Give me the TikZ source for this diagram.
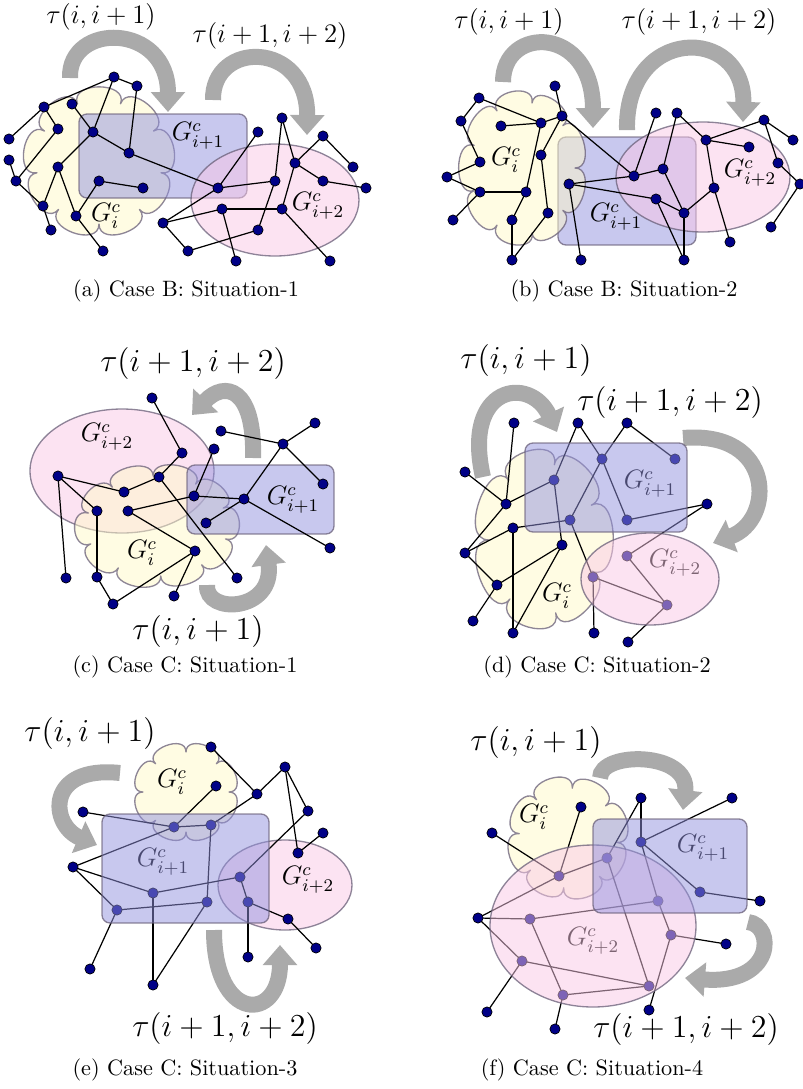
\documentclass[tikz,border=0pt]{standalone}
\usetikzlibrary{arrows.meta}
\pgfdeclarelayer{bg}
\pgfdeclarelayer{edgelayer}
\pgfdeclarelayer{fg}
\pgfsetlayers{bg,edgelayer,main,fg}
\definecolor{dotnavy}{RGB}{0,0,135}
\definecolor{arrowgray}{RGB}{170,170,170}
\definecolor{cloudyellow}{RGB}{255,249,200}
\definecolor{rectblue}{RGB}{145,145,222}
\definecolor{ellpink}{RGB}{250,200,230}
\definecolor{bordergray}{RGB}{105,95,120}
\newcommand\taufontA{\fontsize{12}{14}\selectfont}
\newcommand\taufontB{\fontsize{13.8}{16}\selectfont}
\newcommand\gfont{\fontsize{11.5}{13}\selectfont}
% cloud: cx cy base-rx base-ry puffs bulge phase
\newcommand\drawcloud[7]{%
  \def\ccx{#1}\def\ccy{#2}\def\cra{#3}\def\crb{#4}\def\cN{#5}\def\ch{#6}\def\cph{#7}%
  \draw[cloudbox] ({\ccx+\cra*cos(\cph)},{\ccy+\crb*sin(\cph)})
    \foreach \k in {1,...,\cN} { .. controls
      ({\ccx+(\cra+\ch)*cos(\cph+(\k-1)*360/\cN)},{\ccy+(\crb+\ch)*sin(\cph+(\k-1)*360/\cN)}) and
      ({\ccx+(\cra+\ch)*cos(\cph+\k*360/\cN)},{\ccy+(\crb+\ch)*sin(\cph+\k*360/\cN)}) ..
      ({\ccx+\cra*cos(\cph+\k*360/\cN)},{\ccy+\crb*sin(\cph+\k*360/\cN)}) } -- cycle;}
\begin{document}
\begin{tikzpicture}[x=0.45pt,y=-0.45pt,
  dot/.style={circle,fill=dotnavy,draw=black,line width=0.3pt,minimum size=4.6pt,inner sep=0pt},
  edge/.style={line width=0.55pt,black},
  bigarrow/.style={draw=arrowgray,line width=7.2pt,-{Triangle[width=15pt,length=9pt]}},
  cloudbox/.style={draw=bordergray,fill=cloudyellow,fill opacity=0.5,draw opacity=0.75,line width=0.6pt,line join=round},
  rectbox/.style={draw=bordergray,fill=rectblue,fill opacity=0.5,draw opacity=0.75,rounded corners=3.6pt,line width=0.6pt},
  ellbox/.style={draw=bordergray,fill=ellpink,fill opacity=0.5,draw opacity=0.75,line width=0.6pt},
  gl/.style={font=\gfont,inner sep=0pt},
  tauA/.style={font=\taufontA,inner sep=0pt},
  tauB/.style={font=\taufontB,inner sep=0pt},
  captext/.style={font=\fontsize{10}{12}\selectfont,inner sep=0pt}]
\useasboundingbox (0,0) rectangle (803,1089);

% ---------- arrow coordinates
\coordinate (aLs) at (70,78);   \coordinate (aLt) at (168,112);
\coordinate (aRs) at (213,100); \coordinate (aRt) at (307,135);
\coordinate (bLs) at (503,82);  \coordinate (bLt) at (593,128);
\coordinate (bRs) at (627,130); \coordinate (bRt) at (743,122);
\coordinate (cTs) at (253,458); \coordinate (cTt) at (192,415);
\coordinate (cBs) at (207,585); \coordinate (cBt) at (266,545);
\coordinate (dLs) at (483,477); \coordinate (dLt) at (557,432);
\coordinate (dRs) at (683,438); \coordinate (dRt) at (713,543);
\coordinate (eLs) at (120,773); \coordinate (eLt) at (97,845);
\coordinate (eBs) at (214,930); \coordinate (eBt) at (280,945);
\coordinate (fTs) at (600,778); \coordinate (fTt) at (683,810);
\coordinate (fRs) at (748,922); \coordinate (fRt) at (685,978);

\begin{pgfonlayer}{bg}
\draw[bigarrow] (aLs) .. controls (68,22) and (168,22) .. (aLt);
\draw[bigarrow] (aRs) .. controls (212,40) and (308,40) .. (aRt);
\draw[bigarrow] (bLs) .. controls (503,25) and (593,25) .. (bLt);
\draw[bigarrow] (bRs) .. controls (625,25) and (745,25) .. (bRt);
\draw[bigarrow] (cTs) .. controls (255,388) and (225,380) .. (cTt);
\draw[bigarrow] (cBs) .. controls (205,615) and (275,612) .. (cBt);
\draw[bigarrow] (dLs) .. controls (462,385) and (530,375) .. (dLt);
\draw[bigarrow] (dRs) .. controls (775,430) and (775,520) .. (dRt);
\draw[bigarrow] (eLs) .. controls (45,765) and (50,825) .. (eLt);
\draw[bigarrow] (eBs) .. controls (214,1023) and (280,1023) .. (eBt);
\draw[bigarrow] (fTs) .. controls (600,751) and (690,751) .. (fTt);
\draw[bigarrow] (fRs) .. controls (775,925) and (775,985) .. (fRt);

% (a) shapes
\drawcloud{99}{162}{63}{62}{9}{24}{10}
\draw[rectbox] (79,114) rectangle (247,198);
\draw[ellbox] (275,200) ellipse [x radius=84,y radius=56];
% (b) shapes
\draw[rectbox] (558,137) rectangle (696,245);
\draw[ellbox] (703,177) ellipse [x radius=87,y radius=55];
\drawcloud{523}{168}{52}{66}{9}{22}{0}
% (c) shapes
\draw[ellbox] (122,471) ellipse [x radius=92,y radius=62];
\drawcloud{157}{526}{71}{50}{10}{21}{15}
\draw[rectbox] (187,465) rectangle (334,534);
% (d) shapes (behind)
\drawcloud{543}{539}{54}{76}{7}{32}{25}
% (e) shapes (behind)
\drawcloud{186}{792}{43}{40}{8}{19}{0}
\draw[ellbox] (285,885) ellipse [x radius=67,y radius=45];
% (f) shapes (behind)
\drawcloud{568}{838}{49}{50}{8}{23}{5}
\end{pgfonlayer}

% ---------- labels
\node[tauA] (ta1) at (101,17) {$\tau(i,i+1)$};
\node[tauA] (ta2) at (270,36) {$\tau(i+1,i+2)$};
\node[tauA] (tb1) at (509,22) {$\tau(i,i+1)$};
\node[tauA] (tb2) at (699,22) {$\tau(i+1,i+2)$};
\node[tauB] (tc2) at (193,363) {$\tau(i+1,i+2)$};
\node[tauB] (tc1) at (198,631) {$\tau(i,i+1)$};
\node[tauB] (td1) at (526,360) {$\tau(i,i+1)$};
\node[tauB] (td2) at (670,402) {$\tau(i+1,i+2)$};
\node[tauB] (te1) at (90,733) {$\tau(i,i+1)$};
\node[tauB] (te2) at (225,1028) {$\tau(i+1,i+2)$};
\node[tauB] (tf1) at (536,742) {$\tau(i,i+1)$};
\node[tauB] (tf2) at (686,1029) {$\tau(i+1,i+2)$};

\node[gl] (gai) at (106,216) {$G_i^c$};
\node[gl] (ga1) at (198,136) {$G_{i+1}^c$};
\node[gl] (ga2) at (318,206) {$G_{i+2}^c$};
\node[gl] (gbi) at (506,160) {$G_i^c$};
\node[gl] (gb1) at (616,217) {$G_{i+1}^c$};
\node[gl] (gb2) at (750,173) {$G_{i+2}^c$};
\node[gl] (gci) at (142,553) {$G_i^c$};
\node[gl] (gc1) at (293,500) {$G_{i+1}^c$};
\node[gl] (gc2) at (107,437) {$G_{i+2}^c$};
\node[gl] (gdi) at (557,596) {$G_i^c$};
\node[gl] (gd1) at (650,484) {$G_{i+1}^c$};
\node[gl] (gd2) at (675,563) {$G_{i+2}^c$};
\node[gl] (gei) at (172,782) {$G_i^c$};
\node[gl] (ge1) at (163,862) {$G_{i+1}^c$};
\node[gl] (ge2) at (308,880) {$G_{i+2}^c$};
\node[gl] (gfi) at (534,817) {$G_i^c$};
\node[gl] (gf1) at (703,848) {$G_{i+1}^c$};
\node[gl] (gf2) at (593,941) {$G_{i+2}^c$};

\node[captext] (capa) at (186,291) {(a) Case B: Situation-1};
\node[captext] (capb) at (624,291) {(b) Case B: Situation-2};
\node[captext] (capc) at (185,667) {(c) Case C: Situation-1};
\node[captext] (capd) at (597,667) {(d) Case C: Situation-2};
\node[captext] (cape) at (185,1070) {(e) Case C: Situation-3};
\node[captext] (capf) at (592,1070) {(f) Case C: Situation-4};

% ---------- (a) dots
\foreach \n/\p in {1/{114,77},2/{137,86},3/{44,107},4/{72,104},5/{58,129},6/{9,139},7/{93,132},8/{129,153},9/{9,160},10/{16,181},11/{58,167},12/{99,181},13/{143,188},14/{43,206},15/{76,216},16/{51,230},17/{218,188},18/{258,132},19/{282,118},20/{275,181},21/{295,163},22/{323,136},23/{353,167},24/{323,181},25/{366,188},26/{222,209},27/{282,209},28/{163,223},29/{258,230},30/{103,251},31/{188,251},32/{236,261},33/{330,261}}
  \node[dot] (a\n) at (\p) {};
% (b) dots
\foreach \n/\p in {1/{555,86},2/{479,98},3/{461,121},4/{501,126},5/{541,123},6/{562,116},7/{541,155},8/{480,162},9/{447,177},10/{480,192},11/{526,192},12/{453,220},13/{512,220},14/{548,213},15/{569,184},16/{656,113},17/{677,113},18/{706,140},19/{749,147},20/{764,120},21/{793,140},22/{634,176},23/{663,169},24/{714,188},25/{778,163},26/{800,184},27/{656,199},28/{684,213},29/{771,227},30/{512,260},31/{581,260},32/{684,260},33/{730,242}}
  \node[dot] (b\n) at (\p) {};
% (c) dots
\foreach \n/\p in {1/{152,398},2/{182,453},3/{214,449},4/{221,431},5/{315,423},6/{283,444},7/{323,484},8/{58,476},9/{124,492},10/{159,477},11/{97,511},12/{128,511},13/{194,496},14/{244,499},15/{206,523},16/{330,548},17/{195,551},18/{66,578},19/{97,577},20/{113,604},21/{174,596},22/{237,578}}
  \node[dot] (c\n) at (\p) {};
% (d) dots
\foreach \n/\p in {1/{514,423},2/{578,423},3/{627,423},4/{465,472},5/{506,504},6/{554,480},7/{602,459},8/{675,459},9/{707,504},10/{513,528},11/{570,520},12/{627,520},13/{465,553},14/{562,545},15/{497,585},16/{473,621},17/{513,633},18/{593,577},19/{627,556},20/{667,605},21/{594,633},22/{628,642}}
  \node[dot] (d\n) at (\p) {};
% (e) dots
\foreach \n/\p in {1/{211,747},2/{285,767},3/{216,786},4/{257,794},5/{308,811},6/{83,812},7/{174,827},8/{211,825},9/{323,833},10/{298,853},11/{73,867},12/{240,877},13/{153,893},14/{207,902},15/{248,902},16/{117,910},17/{288,919},18/{316,948},19/{248,957},20/{90,969},21/{153,985}}
  \node[dot] (e\n) at (\p) {};
% (f) dots
\foreach \n/\p in {1/{641,798},2/{732,798},3/{581,807},4/{492,833},5/{641,842},6/{607,858},7/{559,876},8/{700,892},9/{760,901},10/{658,901},11/{478,918},12/{530,919},13/{671,935},14/{726,944},15/{522,961},16/{649,986},17/{563,995},18/{487,1012},19/{649,1010},20/{555,1029}}
  \node[dot] (f\n) at (\p) {};

% ---------- edges
\begin{pgfonlayer}{edgelayer}
\foreach \u/\v in {3/1,1/2,1/7,2/8,3/5,3/6,5/10,9/10,10/14,4/7,7/8,7/11,11/14,11/15,14/16,15/30,12/13,12/15,8/17,17/18,17/20,17/28,19/20,19/21,21/22,22/23,21/24,24/25,21/27,26/27,26/28,26/32,28/31,31/29,29/20,27/33}
  \draw[edge] (a\u.center) -- (a\v.center);
\foreach \u/\v in {2/3,2/5,4/5,5/6,1/6,6/7,6/22,5/11,3/8,8/9,9/10,10/11,10/12,11/13,13/30,7/14,14/30,15/31,15/22,15/27,16/22,22/23,17/23,17/18,23/28,27/28,27/32,28/32,28/24,18/20,18/19,18/24,24/33,20/21,20/25,25/26,26/29}
  \draw[edge] (b\u.center) -- (b\v.center);
\foreach \u/\v in {1/2,2/10,10/9,9/8,8/11,8/18,11/19,19/20,20/17,17/21,17/12,12/13,13/14,13/3,10/22,15/14,14/6,14/16,4/6,6/5,6/7}
  \draw[edge] (c\u.center) -- (c\v.center);
\foreach \u/\v in {1/5,4/5,5/6,5/13,2/6,6/14,2/7,3/7,3/8,7/11,7/12,12/9,9/19,10/11,10/13,10/17,13/15,15/14,15/16,14/17,11/18,18/20,18/21,19/20,20/22}
  \draw[edge] (d\u.center) -- (d\v.center);
\foreach \u/\v in {1/4,4/2,2/5,2/10,10/9,4/8,3/7,6/7,7/8,7/11,8/14,11/13,11/16,13/12,13/21,21/14,16/14,16/20,5/12,12/15,15/17,17/18,15/19}
  \draw[edge] (e\u.center) -- (e\v.center);
\foreach \u/\v in {1/6,1/5,2/5,3/7,4/7,7/6,7/11,5/8,8/9,5/10,10/13,13/14,13/19,6/16,11/12,12/10,11/15,15/18,15/16,12/17,17/16,17/20}
  \draw[edge] (f\u.center) -- (f\v.center);
\end{pgfonlayer}

% ---------- shapes on top
\begin{pgfonlayer}{fg}
\draw[rectbox] (525,443) rectangle (687,532);
\draw[ellbox] (650,579) ellipse [x radius=69,y radius=46];
\draw[rectbox] (102,814) rectangle (269,923);
\draw[ellbox] (593,926) ellipse [x radius=103,y radius=81];
\draw[rectbox] (593,819) rectangle (747,913);
\end{pgfonlayer}
\end{tikzpicture}
\end{document}
